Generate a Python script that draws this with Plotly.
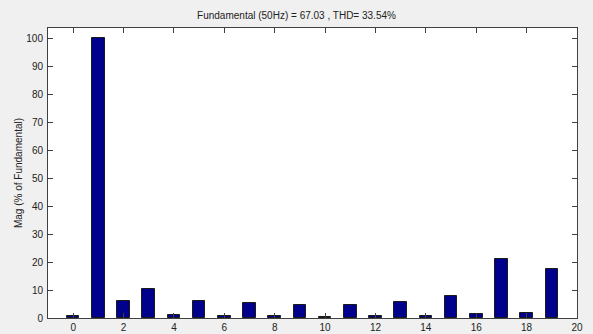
import plotly.graph_objects as go

# Harmonic spectrum (order 0..19), magnitudes in % of fundamental
harmonic_order = list(range(20))
magnitude_pct = [0.7, 100, 6.0, 10.5, 1.0, 6.0, 0.7, 5.2, 0.6, 4.8,
                 0.3, 4.8, 0.7, 5.6, 0.6, 7.8, 1.4, 21.0, 1.7, 17.4]
x_ticks = list(range(0, 21, 2))
y_ticks = list(range(0, 101, 10))
title_text = "Fundamental (50Hz) = 67.03 , THD= 33.54%"
y_title = "Mag (% of Fundamental)"

font_family = "Liberation Sans, Arial, sans-serif"
text_color = "#222222"

fig = go.Figure(
    go.Bar(
        x=harmonic_order,
        y=magnitude_pct,
        width=0.5,
        marker=dict(color="#00008c", line=dict(color="#1a1a1a", width=1)),
    )
)

axis_common = dict(
    showgrid=False,
    zeroline=False,
    showline=True,
    linecolor="#404040",
    linewidth=1,
    mirror="ticks",
    ticks="inside",
    ticklen=5,
    tickcolor="#404040",
    automargin=False,
    tickfont=dict(family=font_family, size=10, color=text_color),
)

fig.update_xaxes(range=[-1, 20], tickvals=x_ticks, ticklabelstandoff=0, **axis_common)
fig.update_yaxes(
    range=[0, 103.6],
    tickvals=y_ticks,
    ticklabelstandoff=2,
    title=dict(text=y_title, font=dict(family=font_family, size=10, color=text_color), standoff=1),
    **axis_common,
)

fig.update_layout(
    width=593,
    height=334,
    margin=dict(l=48, r=16, t=28, b=16),
    paper_bgcolor="#f0f0f0",
    plot_bgcolor="#ffffff",
    showlegend=False,
    bargap=0,
    title=dict(
        text=title_text,
        x=0.5,
        xanchor="center",
        y=1 - 15 / 334,
        yanchor="middle",
        font=dict(family=font_family, size=10, color=text_color),
    ),
)

fig.write_html("out.html")
